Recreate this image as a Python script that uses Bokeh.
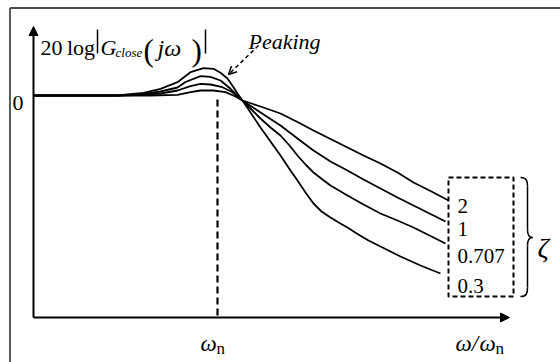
from bokeh.plotting import figure
from bokeh.models import Range1d, Arrow, NormalHead, OpenHead
from bokeh.core.properties import value
from bokeh.embed import file_html
from bokeh.resources import INLINE

# Closed-loop magnitude sketch: 20log|G(jw)| vs normalised frequency,
# one curve per damping ratio (plot units: x from the origin, y from the 0 dB level)
zeta_labels = ["2", "1", "0.707", "0.3"]

x_z2 = [0, 84, 117, 144, 157, 167, 180, 192, 202, 209, 218, 227, 237, 247, 264, 280, 297, 314, 330, 347, 364, 380, 398, 415]
y_z2 = [0, 0, 0, 0.7, 3.3, 5, 5, 3.3, -1, -5, -8, -11, -14.5, -18, -26.5, -35, -43.5, -52, -60, -68, -77, -87, -96, -105]

x_z1 = [0, 84, 110, 127, 144, 157, 167, 177, 189, 199, 209, 218, 227, 237, 247, 264, 280, 297, 314, 330, 347, 364, 380, 396, 412]
y_z1 = [0, 0, 0.7, 2, 5, 9.3, 11.7, 11, 8.3, 3.3, -5, -11, -17, -23.5, -30, -43, -55, -66, -75, -84, -93, -102, -110, -118, -126]

x_z0707 = [0, 84, 110, 127, 144, 152, 167, 177, 187, 197, 209, 218, 227, 237, 247, 256, 264, 272, 280, 289, 297, 314, 330, 347, 364, 380, 396, 412]
y_z0707 = [0, 0, 1.5, 4, 8, 13.5, 19.3, 18.7, 15, 6.7, -5, -14, -23, -32, -40, -50, -60, -69, -77, -84, -90, -100, -109, -118, -125, -132, -140, -148]

x_z03 = [0, 84, 110, 127, 144, 157, 170, 180, 187, 194, 200, 204, 209, 217, 227, 237, 247, 257, 264, 272, 280, 288, 297, 306, 314, 324, 335, 351, 367, 387, 407]
y_z03 = [0, 0, 2.7, 6.7, 13.3, 23.3, 27.3, 26.7, 22.7, 17, 8.3, 2, -5, -17, -32, -46, -60, -75, -85, -97, -108, -116, -122, -127.5, -132, -138.5, -145, -153, -161, -170, -178]

omega_n = 184          # position of the natural frequency on the x axis
axis_floor = -222      # level of the frequency axis
x_axis_end = 476
y_axis_top = 69

SERIF = value("Liberation Serif")

p = figure(width=560, height=362, output_backend="svg", toolbar_location=None,
           x_range=Range1d(-33, 527), y_range=Range1d(-267, 95), min_border=0)
p.axis.visible = False
p.grid.visible = False
p.outline_line_color = None
p.background_fill_color = "white"

# outer frame (left and top edges)
p.segment(x0=[-23.5, -23.5], y0=[-270, 87.5], x1=[-23.5, 530], y1=[87.5, 87.5],
          line_color="#4a4a4a", line_width=1.8)

# axes with arrow heads
p.add_layout(Arrow(end=NormalHead(size=9, fill_color="black", line_color="black", line_width=1),
                   x_start=0, y_start=axis_floor, x_end=0, y_end=y_axis_top,
                   line_width=2, line_color="black"))
p.add_layout(Arrow(end=NormalHead(size=9, fill_color="black", line_color="black", line_width=1),
                   x_start=0, y_start=axis_floor, x_end=x_axis_end, y_end=axis_floor,
                   line_width=2, line_color="black"))

# curves
for xs, ys in [(x_z2, y_z2), (x_z1, y_z1), (x_z0707, y_z0707), (x_z03, y_z03)]:
    p.line(xs, ys, line_color="black", line_width=1.8, line_join="round")

# natural frequency marker
p.segment(x0=[omega_n], y0=[-4], x1=[omega_n], y1=[axis_floor],
          line_color="black", line_width=2.2, line_dash="7 4")

# peaking annotation
p.add_layout(Arrow(end=OpenHead(size=8, line_width=1.5, line_color="black"),
                   x_start=225, y_start=50, x_end=195, y_end=21,
                   line_width=1.5, line_dash="4 3", line_color="black"))
p.text(x=[215], y=[54], text=["Peaking"], text_font=SERIF, text_font_style="italic",
       text_font_size="22px", text_baseline="alphabetic", text_align="left")

# damping ratio labels in a dashed box
p.quad(left=[415], right=[480], top=[-82], bottom=[-201], fill_color=None,
       line_color="black", line_width=2, line_dash="5 3")
p.text(x=[424] * 4, y=[-110, -133, -160, -190], text=zeta_labels, text_font=SERIF,
       text_font_size="21px", text_baseline="alphabetic", text_align="left")

# brace and zeta symbol
bx, btip = 494, 499
p.bezier(x0=[487, bx, btip, bx], y0=[-82, -134, -142, -192],
         x1=[bx, btip, bx, 487], y1=[-91, -142, -150, -201],
         cx0=[493, bx, bx + 2, bx], cy0=[-82, -139, -142, -198],
         cx1=[bx, bx + 2, bx, 493], cy1=[-85, -142, -145, -201],
         line_color="black", line_width=1.5)
p.segment(x0=[bx, bx], y0=[-91, -150], x1=[bx, bx], y1=[-134, -192],
          line_color="black", line_width=1.5)
p.text(x=[504], y=[-152], text=["ζ"], text_font=SERIF, text_font_style="italic",
       text_font_size="28px", text_baseline="alphabetic", text_align="left")

# 0 dB tick label
p.text(x=[-21], y=[-7], text=["0"], text_font=SERIF, text_font_size="22px",
       text_baseline="alphabetic", text_align="left")

# y-axis title: 20 log |G_close(jw)|
p.text(x=[7], y=[48], text=["20\u2009log"], text_font=SERIF, text_font_size="22px",
       text_baseline="alphabetic")
p.segment(x0=[64, 172], y0=[66, 66], x1=[64, 172], y1=[42, 42], line_color="black", line_width=1.5)
p.text(x=[67], y=[48], text=["G"], text_font=SERIF, text_font_style="italic",
       text_font_size="22px", text_baseline="alphabetic")
p.text(x=[82], y=[43], text=["close"], text_font=SERIF, text_font_style="italic",
       text_font_size="13px", text_baseline="alphabetic")
p.text(x=[110, 158], y=[45, 45], text=["(", ")"], text_font=SERIF,
       text_font_size="31px", text_baseline="alphabetic")
p.text(x=[124], y=[48], text=["jω"], text_font=SERIF, text_font_style="italic",
       text_font_size="24px", text_baseline="alphabetic")

# x-axis labels
p.text(x=[167, 422, 446], y=[-248, -248, -248], text=["ω", "ω/", "ω"], text_font=SERIF,
       text_font_style="italic", text_font_size="23px", text_baseline="alphabetic")
p.text(x=[183, 462], y=[-253, -253], text=["n", "n"], text_font=SERIF,
       text_font_size="17px", text_baseline="alphabetic")

open("out.html", "w").write(file_html(p, INLINE))
